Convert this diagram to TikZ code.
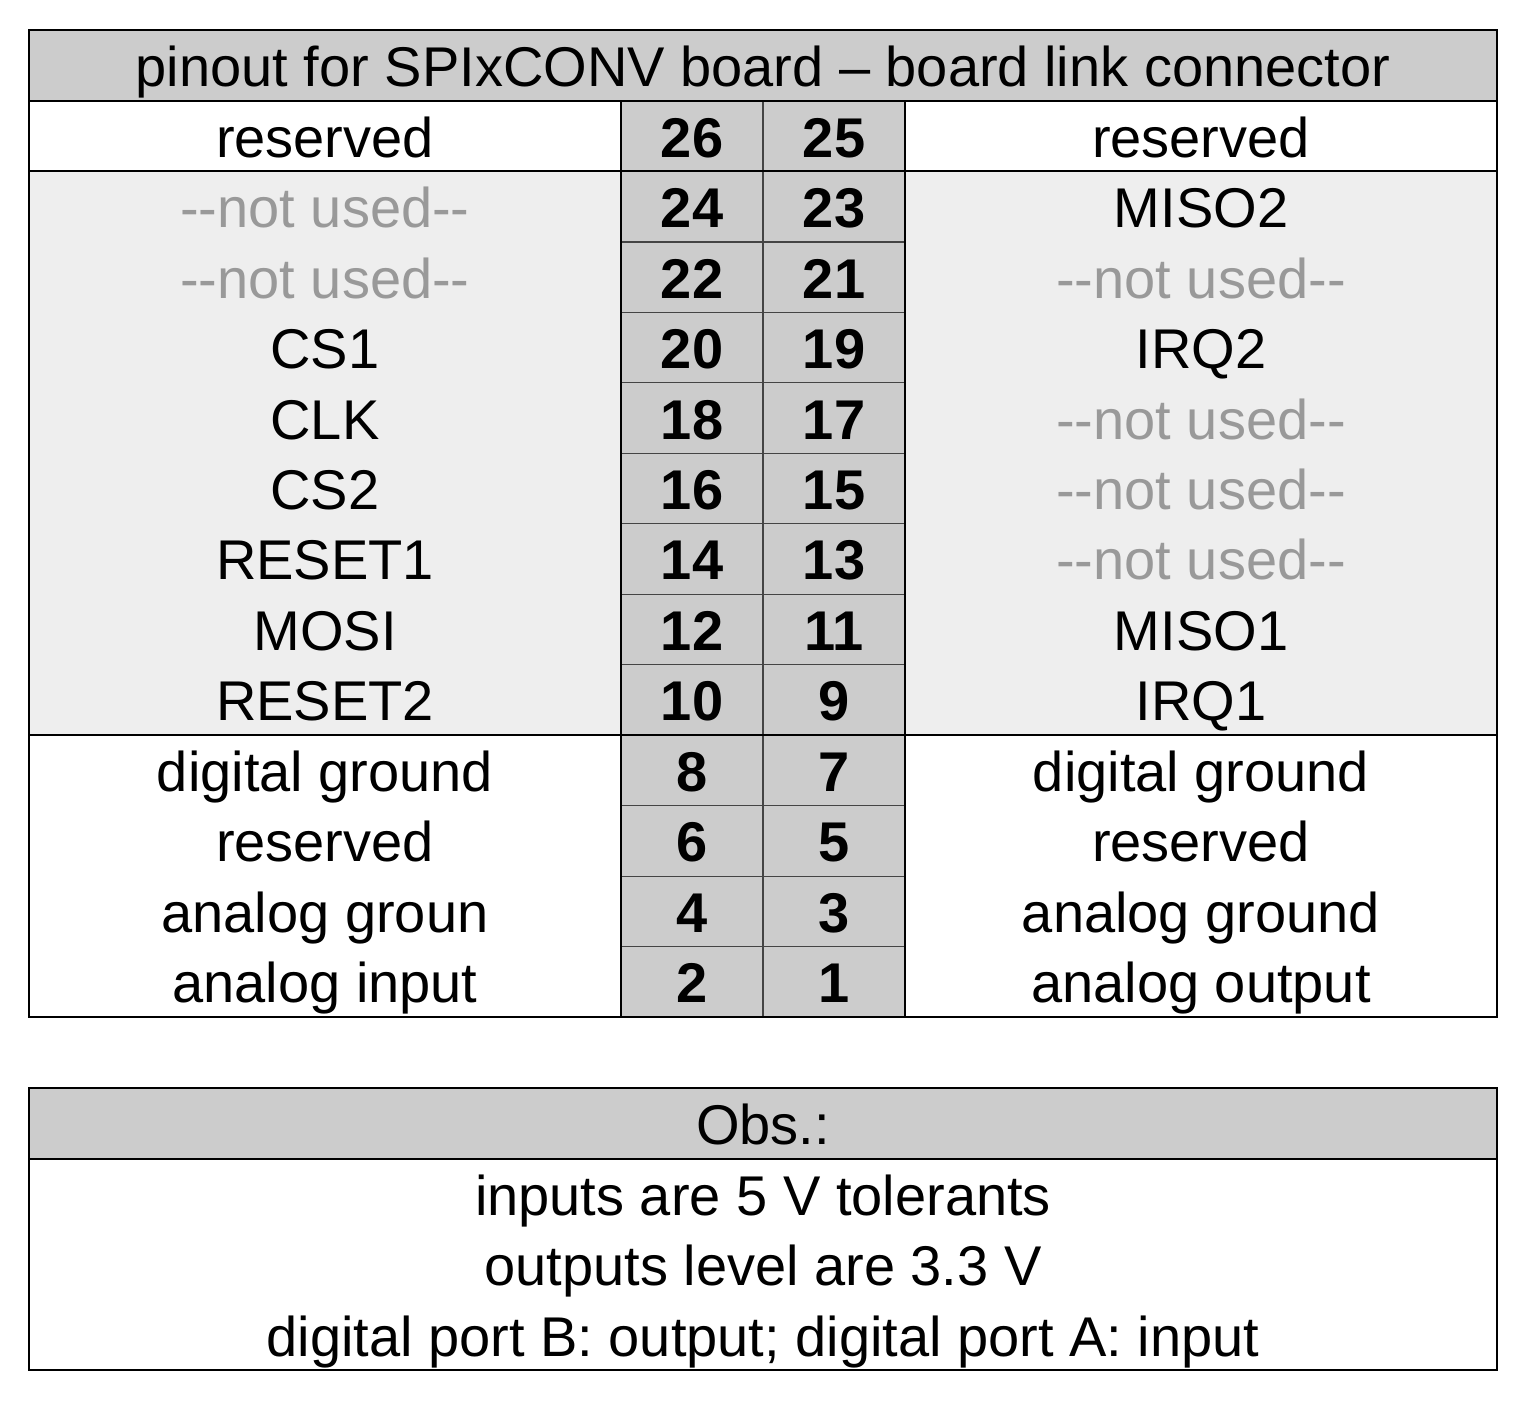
\documentclass[tikz,border=0pt]{standalone}
\usepackage{fontspec}
\setmainfont{Liberation Sans}
\definecolor{hdr}{HTML}{CCCCCC}
\definecolor{lite}{HTML}{EEEEEE}
\definecolor{nu}{HTML}{999999}
\definecolor{inner}{HTML}{444444}
\begin{document}
\begin{tikzpicture}[x=0.5pt,y=-0.5pt,
  txt/.style={anchor=base,inner sep=0pt,font=\fontsize{28}{34}\selectfont},
  pin/.style={txt,font=\fontsize{28}{34}\selectfont\bfseries},
  unused/.style={txt,text=nu},
  frame/.style={draw=black,line width=0.6pt},
  inl/.style={draw=inner,line width=0.6pt}]
\useasboundingbox (0,0) rectangle (1530,1405);
% fills
\fill[hdr] (29,30) rectangle (1497,101);
\fill[lite] (29,171) rectangle (1497,735);
\fill[hdr] (621,101) rectangle (905,1017);
% inner pin lines
\foreach \i in {2,...,12} {
  \pgfmathsetmacro{\yy}{101+\i*70.4615}
  \draw[inl] (621,\yy) -- (905,\yy);
}
\draw[inl] (763,101) -- (763,1017);
\draw[frame] (621,101) -- (621,1017);
\draw[frame] (905,101) -- (905,1017);
% full-width lines
\draw[frame] (29,101) -- (1497,101);
\draw[frame] (29,171) -- (1497,171);
\draw[frame] (29,735) -- (1497,735);
\draw[frame] (29,30) rectangle (1497,1017);
% title
\node[txt] (title) at (763,86) {pinout for SPIxCONV board – board link connector};
% rows
\foreach [count=\i from 0] \l/\ls/\a/\b/\r/\rs in {
  reserved/txt/26/25/reserved/txt,
  -{}-not used-{}-/unused/24/23/MISO2/txt,
  -{}-not used-{}-/unused/22/21/-{}-not used-{}-/unused,
  CS1/txt/20/19/IRQ2/txt,
  CLK/txt/18/17/-{}-not used-{}-/unused,
  CS2/txt/16/15/-{}-not used-{}-/unused,
  RESET1/txt/14/13/-{}-not used-{}-/unused,
  MOSI/txt/12/11/MISO1/txt,
  RESET2/txt/10/9/IRQ1/txt,
  digital ground/txt/8/7/digital ground/txt,
  reserved/txt/6/5/reserved/txt,
  analog groun/txt/4/3/analog ground/txt,
  analog input/txt/2/1/analog output/txt} {
  \pgfmathsetmacro{\yb}{101+\i*70.4615+35.2+21}
  \node[\ls] (l\i) at (325,\yb) {\l};
  \node[pin] (pa\i) at (692,\yb) {\a};
  \node[pin] (pb\i) at (834,\yb) {\b};
  \node[\rs] (r\i) at (1201,\yb) {\r};
}
% obs table
\fill[hdr] (29,1088) rectangle (1497,1159);
\draw[frame] (29,1159) -- (1497,1159);
\draw[frame] (29,1088) rectangle (1497,1370);
\node[txt] (obs) at (763,1144.5) {Obs.:};
\node[txt] (o1) at (763,1215) {inputs are 5 V tolerants};
\node[txt] (o2) at (763,1285.5) {outputs level are 3.3 V};
\node[txt] (o3) at (763,1356) {digital port B: output; digital port A: input};
\end{tikzpicture}
\end{document}
